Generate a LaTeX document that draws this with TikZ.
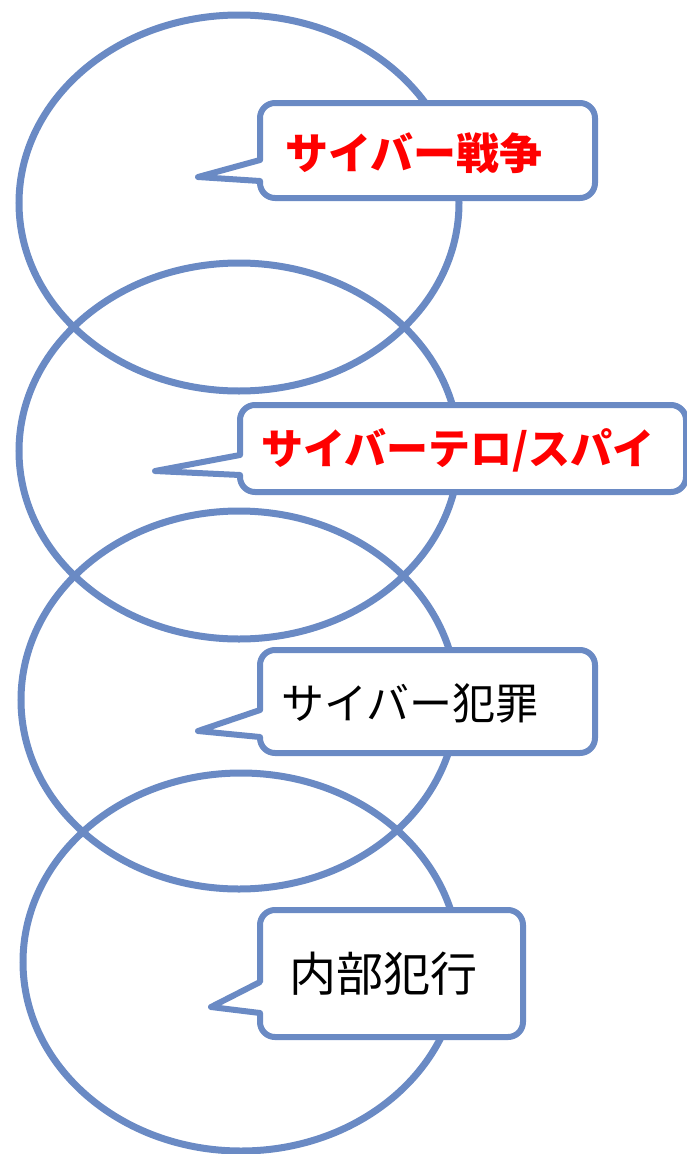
\documentclass[tikz,border=0pt]{standalone}
\usepackage{fontspec}
\newfontfamily\jp{Noto Sans CJK JP}
\definecolor{oblue}{RGB}{106,138,196}
\definecolor{ored}{RGB}{255,0,0}
\begin{document}
\begin{tikzpicture}[x=1pt,y=-1pt,
  ring/.style={draw=oblue,line width=7pt},
  callout/.style={draw=oblue,fill=white,line width=6pt,line join=round},
  hot/.style={font=\jp\bfseries\fontsize{43}{48}\selectfont,text=ored,inner sep=0pt},
  cool/.style={font=\jp\fontsize{43}{48}\selectfont,text=black,inner sep=0pt}]
\useasboundingbox (0,0) rectangle (687,1154);
% ellipses
\draw[ring] (239,203) ellipse [x radius=220,y radius=188];
\draw[ring] (239,451) ellipse [x radius=220,y radius=188];
\draw[ring] (239,700) ellipse [x radius=218,y radius=189];
\draw[ring] (241,962) ellipse [x radius=218,y radius=189];
% callout 1
\draw[callout] (198,177) -- (260,181) [rounded corners=15pt] -- (260,198) -- (595,198) -- (595,103) -- (260,103) [sharp corners] -- (260,160) -- cycle;
\node[hot] (t1) at (414,153) {サイバー戦争};
% callout 2
\draw[callout] (155,471) -- (240,475) [rounded corners=15pt] -- (240,492) -- (686,492) -- (686,405) -- (240,405) [sharp corners] -- (240,455) -- cycle;
\node[hot,font=\jp\bfseries\fontsize{42}{48}\selectfont] (t2) at (458,450) {サイバーテロ/スパイ};
% callout 3
\draw[callout] (198,731) -- (260,737) [rounded corners=15pt] -- (260,753) -- (595,753) -- (595,650) -- (260,650) [sharp corners] -- (260,710) -- cycle;
\node[cool] (t3) at (410,703) {サイバー犯罪};
% callout 4
\draw[callout] (211,1007) -- (260,1013) [rounded corners=15pt] -- (260,1037) -- (523,1037) -- (523,910) -- (260,910) [sharp corners] -- (260,982) -- cycle;
\node[cool,font=\jp\fontsize{47}{52}\selectfont] (t4) at (383,974) {内部犯行};
\end{tikzpicture}
\end{document}
